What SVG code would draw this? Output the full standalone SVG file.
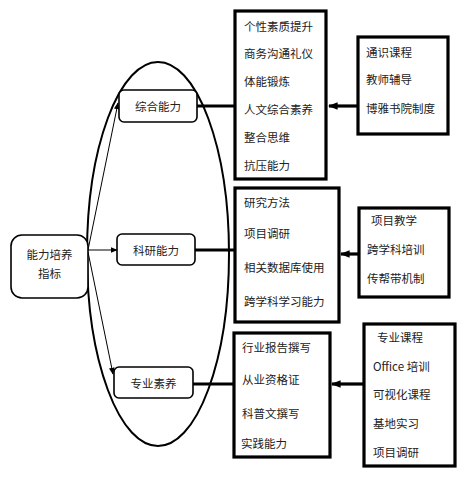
<svg xmlns="http://www.w3.org/2000/svg" width="470" height="478" viewBox="0 0 470 478">
<style>
text{font-family:"Noto Sans CJK SC","Noto Sans",sans-serif;font-size:11.5px;fill:#222;dominant-baseline:central}
.c{text-anchor:middle}
.n{fill:#fff;stroke:#000;stroke-width:1.6}
.b{fill:#fff;stroke:#000;stroke-width:3.2}
.t{stroke:#000;stroke-width:1;fill:none}
.k{stroke:#000;stroke-width:3.2;fill:none}
</style>
<defs>
<marker id="a" viewBox="0 0 10 10" refX="9" refY="5" markerWidth="7" markerHeight="7" markerUnits="userSpaceOnUse" orient="auto"><path d="M0,1 L10,5 L0,9 z" fill="#000"/></marker>
<marker id="a2" viewBox="0 0 10 10" refX="9" refY="5" markerWidth="3" markerHeight="3" orient="auto"><path d="M0,1 L10,5 L0,9 z" fill="#000"/></marker>
</defs>
<ellipse id="ring" cx="158" cy="254" rx="71" ry="192" fill="none" stroke="#000" stroke-width="2"/>
<g id="connectors">
<line class="t" x1="88" y1="250" x2="118" y2="103" marker-end="url(#a)"/>
<line class="t" x1="88" y1="250" x2="117" y2="250" marker-end="url(#a)"/>
<line class="t" x1="88" y1="252" x2="113" y2="374" marker-end="url(#a)"/>
<line class="k" x1="197" y1="106" x2="234" y2="106"/>
<line class="k" x1="195" y1="250" x2="234" y2="250"/>
<line class="k" x1="193" y1="384" x2="233" y2="384"/>
<line class="k" x1="357" y1="106" x2="329" y2="106" marker-end="url(#a2)"/>
<line class="k" x1="358" y1="254" x2="341" y2="254" marker-end="url(#a2)"/>
<line class="k" x1="363" y1="384" x2="332" y2="384" marker-end="url(#a2)"/>
</g>
<g id="root"><rect class="n" x="11" y="235" width="77" height="63" rx="11"/><text class="c" x="49.5" y="254">能力培养</text><text class="c" x="49.5" y="273">指标</text></g>
<g id="zonghe"><rect class="n" x="119" y="90" width="78" height="32" rx="5"/><text class="c" x="158" y="106">综合能力</text></g>
<g id="keyan"><rect class="n" x="117" y="234" width="78" height="31" rx="5"/><text class="c" x="156" y="250">科研能力</text></g>
<g id="zhuanye"><rect class="n" x="114" y="367" width="79" height="31" rx="5"/><text class="c" x="153.5" y="383">专业素养</text></g>
<g id="box1"><rect class="b" x="235" y="11" width="91" height="168"/>
<text x="244" y="26">个性素质提升</text><text x="244" y="53">商务沟通礼仪</text><text x="244" y="81">体能锻炼</text><text x="244" y="109">人文综合素养</text><text x="244" y="137">整合思维</text><text x="244" y="165">抗压能力</text></g>
<g id="box2"><rect class="b" x="358" y="37" width="90" height="97"/>
<text x="366" y="52">通识课程</text><text x="366" y="79">教师辅导</text><text x="366" y="108">博雅书院制度</text></g>
<g id="box3"><rect class="b" x="235" y="188" width="104" height="134"/>
<text x="244" y="202">研究方法</text><text x="244" y="233">项目调研</text><text x="244" y="267">相关数据库使用</text><text x="244" y="301">跨学科学习能力</text></g>
<g id="box4"><rect class="b" x="359" y="208" width="90" height="89"/>
<text x="371" y="220">项目教学</text><text x="367" y="249">跨学科培训</text><text x="367" y="278">传帮带机制</text></g>
<g id="box5"><rect class="b" x="234" y="333" width="96" height="124"/>
<text x="242" y="347">行业报告撰写</text><text x="242" y="379">从业资格证</text><text x="242" y="413">科普文撰写</text><text x="241" y="443">实践能力</text></g>
<g id="box6"><rect class="b" x="364" y="324" width="91" height="142"/>
<text x="377" y="337">专业课程</text><text x="373" y="366">Office 培训</text><text x="373" y="394">可视化课程</text><text x="373" y="423">基地实习</text><text x="373" y="452">项目调研</text></g>
</svg>
